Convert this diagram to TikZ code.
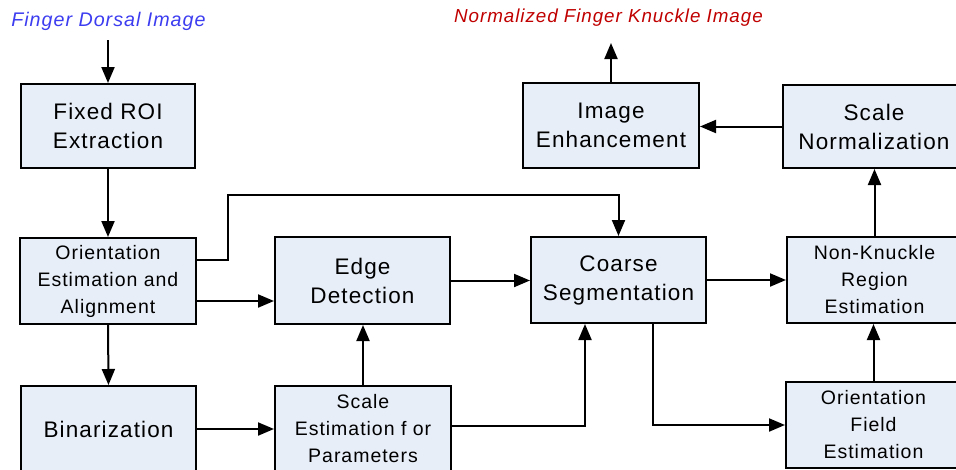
\documentclass[tikz,border=0pt]{standalone}
\usepackage{fontspec}
\setmainfont{Liberation Sans}[LetterSpace=5]
\usetikzlibrary{arrows.meta,calc}
\definecolor{boxfill}{HTML}{E8EEF8}
\definecolor{inblue}{HTML}{3C3CF0}
\definecolor{outred}{HTML}{C00000}
\tikzset{
  blk/.style={draw=black, line width=2pt, fill=boxfill, align=center, inner sep=0pt},
  big/.style={blk, font=\fontsize{22.5}{29}\selectfont},
  small/.style={blk, font=\fontsize{19.5}{27}\selectfont},
  arr/.style={line width=2pt, -{Triangle[length=16pt,width=13pt]}},
  lbl/.style={font=\fontsize{19.7}{24}\selectfont\itshape, inner sep=0pt}
}
\begin{document}
\begin{tikzpicture}[x=1pt,y=-1pt]
\useasboundingbox (0,0) rectangle (956,469);
\clip (0,0) rectangle (956,469);
% boxes
\node[big, minimum width=174pt, minimum height=84pt] (roi) at (108,126) {Fixed ROI\\Extraction};
\node[small, minimum width=176pt, minimum height=86pt] (ori) at (108,281) {Orientation\\Estimation and\\Alignment};
\node[big, minimum width=175pt, minimum height=86pt] (bin) at (108.5,429) {Binarization};
\node[big, minimum width=175pt, minimum height=87pt] (edge) at (362.5,280.5) {Edge\\Detection};
\node[small, minimum width=176pt, minimum height=86pt] (sest) at (363,429) {Scale\\Estimation f or\\Parameters};
\node[big, minimum width=175pt, minimum height=86pt] (coarse) at (618.5,280) {Coarse\\Segmentation};
\node[small, minimum width=175pt, minimum height=86pt] (nk) at (874.5,280) {Non-Knuckle\\Region\\Estimation};
\node[small, minimum width=175pt, minimum height=86pt] (ofe) at (873.5,425) {Orientation\\Field\\Estimation};
\node[big, minimum width=182pt, minimum height=83pt] (sn) at (874,126.5) {Scale\\Normalization};
\node[big, minimum width=176pt, minimum height=85pt] (ie) at (611,125.5) {Image\\Enhancement};
% labels
\node[lbl, text=inblue] (inl) at (108.5,21) {Finger Dorsal Image};
\node[lbl, text=outred, font=\fontsize{18.8}{24}\selectfont\itshape] (outl) at (608.5,18) {Normalized Finger Knuckle Image};
\coordinate (inS) at (108,40);
\coordinate (outE) at (611,43);
% connectors
\draw[arr] (inS) -- (roi.north);
\draw[arr] (roi.south) -- (ori.north);
\draw[arr] (ori.south) -- (bin.north);
\draw[arr] ([yshift=-20pt]ori.east) -- ([yshift=-20pt]ori.east -| edge.west);
\draw[arr] ([yshift=21pt]ori.east) -| (228,195) -| (coarse.north);
\draw[arr] (edge.east) -- (edge.east -| coarse.west);
\draw[arr] (bin.east) -- (bin.east -| sest.west);
\draw[arr] (sest.north) -- (sest.north |- edge.south);
\draw[arr] ([yshift=3pt]sest.east) -| ($(coarse.south)+(-33.5,0)$);
\draw[arr] (coarse.east) -- (coarse.east -| nk.west);
\draw[arr] ($(coarse.south)+(34.5,0)$) |- (ofe.west);
\draw[arr] (ofe.north) -- (ofe.north |- nk.south);
\draw[arr] (nk.north) -- (nk.north |- sn.south);
\draw[arr] (sn.west) -- (sn.west -| ie.east);
\draw[arr] (ie.north) -- (outE);
\end{tikzpicture}
\end{document}
